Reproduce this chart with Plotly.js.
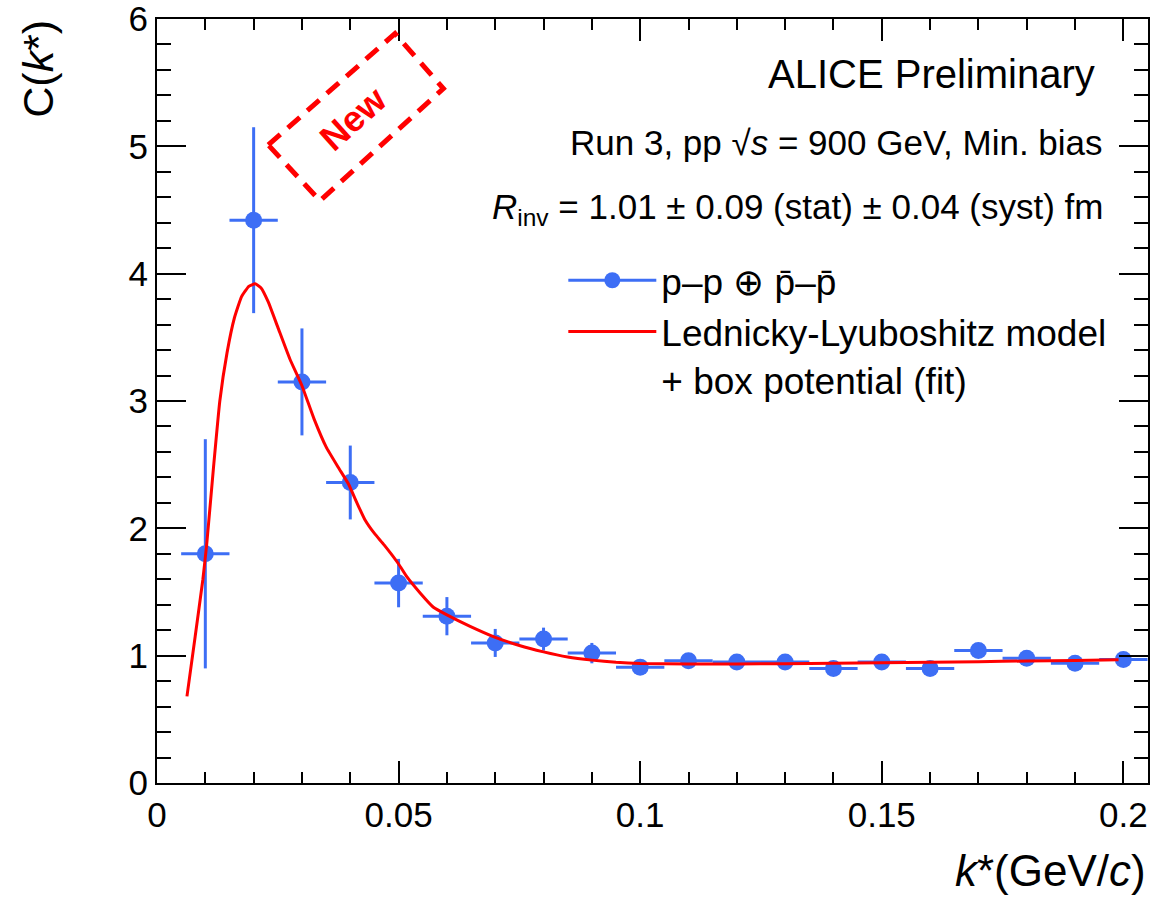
<!DOCTYPE html>
<html>
<head>
<meta charset="utf-8">
<script src="https://cdn.plot.ly/plotly-3.0.1.min.js"></script>
<style>html,body{margin:0;padding:0;background:#fff;}#plot{width:1153px;height:898px;}</style>
</head>
<body>
<div id="plot"></div>
<script>
// Data: p-p (+) pbar-pbar correlation function
const kStar = [0.01,0.02,0.03,0.04,0.05,0.06,0.07,0.08,0.09,0.10,0.11,0.12,0.13,0.14,0.15,0.16,0.17,0.18,0.19,0.20];
const cVal  = [1.80,4.42,3.15,2.36,1.57,1.31,1.10,1.13,1.02,0.91,0.96,0.95,0.95,0.90,0.95,0.90,1.04,0.98,0.94,0.97];
const cErr  = [0.90,0.73,0.42,0.29,0.19,0.15,0.11,0.09,0.08,0.05,0.04,0.04,0.04,0.04,0.04,0.04,0.04,0.04,0.04,0.04];
const kErr  = [0.005,0.005,0.005,0.005,0.005,0.005,0.005,0.005,0.005,0.005,0.005,0.005,0.005,0.005,0.005,0.005,0.005,0.005,0.005,0.005];

// Lednicky-Lyuboshitz model + box potential (fit)
const fitK = [0.0062,0.0079,0.0095,0.0103,0.0117,0.0130,0.0145,0.0160,0.0175,0.0190,0.0203,0.0215,0.0230,0.0250,0.0275,0.0300,0.0325,0.0350,0.0375,0.0396,0.0415,0.0430,0.0450,0.0470,0.0500,0.0517,0.0545,0.0572,0.0600,0.0648,0.0696,0.0750,0.0800,0.0850,0.0900,0.0950,0.1000,0.1100,0.1200,0.1300,0.1400,0.1500,0.1600,0.1700,0.1800,0.1900,0.1990];
const fitC = [0.68,1.15,1.60,1.88,2.48,3.00,3.38,3.65,3.82,3.90,3.92,3.89,3.78,3.58,3.33,3.12,2.86,2.64,2.48,2.35,2.19,2.07,1.96,1.87,1.72,1.62,1.49,1.38,1.32,1.23,1.15,1.08,1.03,0.99,0.965,0.948,0.939,0.934,0.935,0.937,0.940,0.944,0.948,0.953,0.958,0.962,0.967];

const xTitle = "<i>k</i>*(GeV/<i>c</i>)";
const yTitle = "C(<i>k</i>*)";
const dataName = "p\u2013p \u2295 p\u0304\u2013p\u0304";
const fitName = "Lednicky-Lyuboshitz model<br>+ box potential (fit)";

const BLUE = "#3d6ef5";
const RED = "#ff0000";
const FONT = "Liberation Sans, Arial, Helvetica, sans-serif";

const traces = [
  {
    x: kStar, y: cVal, type: "scatter", mode: "markers",
    marker: {color: BLUE, size: 17},
    error_y: {type: "data", array: cErr, visible: true, color: BLUE, thickness: 3, width: 0},
    error_x: {type: "data", array: kErr, visible: true, color: BLUE, thickness: 3, width: 0},
    showlegend: false, hoverinfo: "x+y"
  },
  {
    x: [null], y: [null], type: "scatter", mode: "lines+markers",
    name: dataName, line: {color: BLUE, width: 3}, marker: {color: BLUE, size: 17},
    showlegend: true
  },
  {
    x: fitK, y: fitC, type: "scatter", mode: "lines", name: fitName,
    line: {color: RED, width: 3, shape: "spline", smoothing: 0.4},
    showlegend: true
  }
];

const axisCommon = {
  showline: true, linecolor: "#000", linewidth: 2, mirror: "allticks",
  ticks: "inside", tickcolor: "#000", tickwidth: 2,
  showgrid: false, zeroline: false, ticklabeloverflow: "allow",
  tickfont: {family: FONT, size: 35, color: "#000"}
};

const layout = {
  width: 1153, height: 898,
  margin: {l: 157, r: 5, t: 19, b: 115, pad: 0},
  paper_bgcolor: "#fff", plot_bgcolor: "#fff",
  font: {family: FONT, color: "#000"},
  xaxis: Object.assign({}, axisCommon, {
    range: [0, 0.2051], dtick: 0.05, tick0: 0, ticklen: 22,
    minor: {dtick: 0.01, ticklen: 11, tickwidth: 2, tickcolor: "#000", ticks: "inside", showgrid: false}
  }),
  yaxis: Object.assign({}, axisCommon, {
    range: [0, 6], dtick: 1, tick0: 0, ticklen: 29,
    minor: {dtick: 0.2, ticklen: 14, tickwidth: 2, tickcolor: "#000", ticks: "inside", showgrid: false}
  }),
  legend: {
    x: 0.41, y: 0.698, xanchor: "left", yanchor: "top",
    bgcolor: "rgba(0,0,0,0)", borderwidth: 0,
    font: {family: FONT, size: 37, color: "#000"},
    itemwidth: 88, valign: "top", tracegroupgap: 0
  },
  annotations: [
    {text: "ALICE Preliminary", xref: "paper", yref: "paper", x: 0.949, y: 0.928,
     xanchor: "right", yanchor: "middle", showarrow: false, font: {family: FONT, size: 40, color: "#000"}},
    {text: "Run 3, pp \u221A<i>s</i> = 900 GeV, Min. bias", xref: "paper", yref: "paper", x: 0.957, y: 0.838,
     xanchor: "right", yanchor: "middle", showarrow: false, font: {family: FONT, size: 35, color: "#000"}},
    {text: "<i>R</i><sub>inv</sub> = 1.01 \u00B1 0.09 (stat) \u00B1 0.04 (syst) fm", xref: "paper", yref: "paper", x: 0.957, y: 0.751,
     xanchor: "right", yanchor: "middle", showarrow: false, font: {family: FONT, size: 35, color: "#000"}},
    {text: yTitle, xref: "paper", yref: "paper", x: -0.120, y: 0.935, textangle: -90,
     xanchor: "center", yanchor: "middle", showarrow: false, font: {family: FONT, size: 43, color: "#000"}},
    {text: xTitle, xref: "paper", yref: "paper", x: 1.0, y: -0.115,
     xanchor: "right", yanchor: "middle", showarrow: false, font: {family: FONT, size: 44, color: "#000"}},
    {text: "<b>New</b>", xref: "paper", yref: "paper", x: 0.198, y: 0.8695, textangle: -42,
     xanchor: "center", yanchor: "middle", showarrow: false, font: {family: FONT, size: 36, color: RED}}
  ],
  shapes: [
    {type: "path", xref: "paper", yref: "paper",
     path: "M0.1123,0.8351 L0.2402,0.9809 L0.2890,0.9090 L0.1645,0.7620 Z",
     line: {color: RED, width: 5, dash: "16px,10px"}, fillcolor: "rgba(0,0,0,0)"}
  ]
};

Plotly.newPlot("plot", traces, layout, {displayModeBar: false, staticPlot: true});
</script>
</body>
</html>
